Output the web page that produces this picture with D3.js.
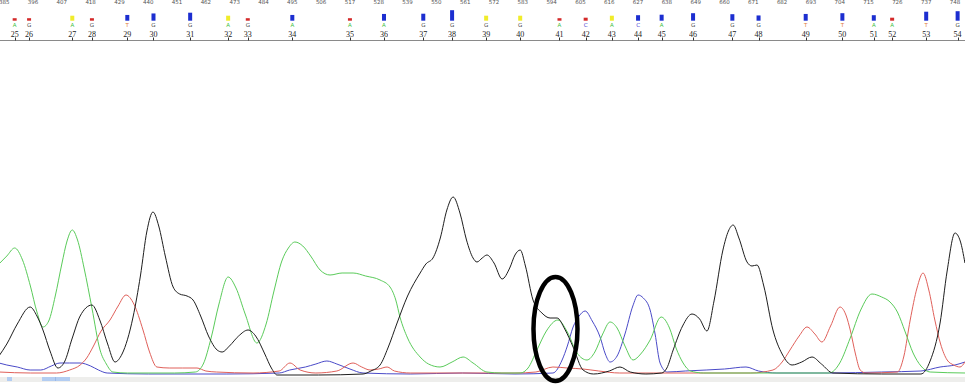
<!DOCTYPE html>
<html>
<head>
<meta charset="utf-8">
<script src="https://cdn.jsdelivr.net/npm/d3@7"></script>
<style>
  html, body { margin: 0; padding: 0; background: #fff; }
  svg { display: block; }
  .hdr text { -webkit-font-smoothing: antialiased; }
</style>
</head>
<body>
<svg id="chart" width="965" height="390"></svg>
<script>
// Scan-number ruler along the top edge
const scanTicks = [385, 396, 407, 418, 429, 440, 451, 462, 473, 484, 495, 506, 517, 528,
  539, 550, 561, 572, 583, 594, 605, 616, 627, 638, 649, 660, 671, 682, 693, 704, 715,
  726, 737, 748];

// Base calls: position number, called base, peak scan, quality value
const basePositions = [25, 26, 27, 28, 29, 30, 31, 32, 33, 34, 35, 36, 37, 38, 39, 40,
  41, 42, 43, 44, 45, 46, 47, 48, 49, 50, 51, 52, 53, 54];
const baseCalls = ["A", "G", "A", "G", "T", "G", "G", "A", "G", "A", "A", "A", "G", "G",
  "G", "G", "A", "C", "A", "C", "A", "G", "G", "G", "T", "T", "A", "A", "T", "G"];
const baseScans = [389, 394.5, 411, 418.5, 432, 442, 456, 470.5, 478, 495, 517, 530, 545,
  556, 569, 582, 597, 607, 617, 627, 636, 648, 663, 673, 691, 705, 717, 724, 737, 749];
const baseQuality = [10, 10, 20, 10, 23, 29, 32, 20, 10, 23, 10, 27, 28, 42, 20, 20, 10,
  12, 20, 22, 24, 30, 26, 21, 27, 30, 22, 12, 36, 38];

// Trace intensities, [scan, signal] pairs, one channel per base
const traceA = [[383,112],[386,120],[389,128],[392,116],[395,90],[397.5,64],[399.8,49],[402,55],
  [404.5,80],[407,112],[409,135],[411,146],[413,136],[415.5,108],[418.5,68],[421.6,26],[424,12],
  [426.5,4],[432,3],[450,3],[458,4],[461,12],[464,38],[467,72],[470.5,99],[473.5,88],[477,62],
  [481.5,33],[485,52],[488,85],[491,115],[493.5,128],[496,134],[499,130],[502,120],[505.6,106],
  [509.4,101],[514,103],[518.2,103],[523,100],[528.5,96],[532.3,89],[534.5,76],[536.1,59],
  [539,38],[543.8,19],[547,12],[551.4,9],[556,14],[560.2,19],[564,13],[569.3,4],[575,3],[582,3],
  [585,8],[588.4,26],[592,45],[596.4,56],[600,44],[603.7,23],[607.5,16],[610.5,24],[613.5,42],
  [616.3,54],[619,48],[622,30],[625.1,16],[628,22],[631.6,36],[635.8,59],[639,48],[641.5,28],
  [644.2,13],[647,5],[652,3],[700,3],[704,13],[708,38],[712,66],[716.3,82],[720,79],[723.2,74],
  [726,64],[729,44],[732,23],[735,10],[738.5,4],[752,3]];
const traceG = [[383,20],[386,32],[390,52],[394.9,69],[397.5,60],[399.8,46],[402.5,25],[405.5,8],
  [408,14],[411,38],[414,60],[418.5,71],[421.5,56],[424.5,32],[427.3,14],[430,22],[434.2,59],
  [437,100],[439.5,145],[441.8,164],[444,150],[446.5,120],[449.5,89],[452,82],[454.8,80],
  [457.1,76],[460,60],[463,40],[466.3,26],[468.2,24],[471,30],[474.5,40],[478.1,46],[481,40],
  [484.5,22],[487,8],[489.2,1],[505,1],[522,2],[525,5],[528.5,11],[531.5,28],[535,53],[539,80],
  [543.8,103],[546,112],[548.7,118],[551.5,138],[554,166],[556.4,179],[559,163],[561.5,136],
  [564,118],[565.5,114],[567.5,118],[569.3,121],[572,113],[575.1,97],[578,108],[580,121],
  [582,126],[584,110],[586.9,76],[590.3,63],[593.4,58],[596.1,58],[599,47],[602.2,29],[606,6],
  [610,2],[616,5],[620.1,9],[624,4],[630,2],[636,3],[638,8],[640.4,26],[644,50],[647.6,62],
  [650.5,57],[653.3,45],[656,75],[659.4,126],[661.5,145],[663.3,151],[665.5,138],[668.6,114],
  [670.5,110],[672.4,111],[675,90],[678.5,46],[682,22],[685.8,11],[689.5,14],[693.4,19],[697,12],
  [701.4,3],[720,2],[735,2],[738.5,15],[742.3,53],[745,105],[748,143],[750,135],[751.8,113]];
const traceT = [[383,4],[395,3],[405,3],[410,6],[414,11],[416.5,18],[418.9,29],[422,45],[425.4,56],
  [428.5,70],[431.5,81],[434.5,72],[438,46],[440.5,24],[443.3,9],[448,8],[453,8],[458.6,8],[462,5],
  [466,4],[480,3],[490,5],[494.1,13],[498,6],[504,3],[512,5],[518.2,13],[521.5,9],[524.7,6],
  [528,7],[531.2,9],[534,5],[540,3],[560,3],[580,3],[588,4],[594.5,9],[600,8],[606,7],[612,5],
  [620,3],[650,3],[670,3],[678.5,6],[682,14],[685,26],[688.5,40],[691.5,49],[694.5,42],
  [697.2,34],[700.5,50],[704.1,69],[706.5,60],[708,46],[710,22],[711.8,6],[714,3],[726,4],
  [728.5,20],[730.9,56],[733.5,88],[735.8,103],[738,86],[740.3,56],[742.5,32],[745,16],
  [747.5,11],[749.9,9],[751.8,14]];
const traceC = [[383,13],[386,11],[390,9],[394.9,6],[399,6],[403,10],[406.3,13],[410,13],[414,13],
  [418,10],[421,6],[424.3,3],[440,2],[470,2],[490,3],[494,6],[500,9],[504,12],[508.2,15],[512,12],
  [517,7],[522,3],[540,2],[560,3],[580,2],[594.5,3],[598,16],[600,30],[602.2,49],[604.5,60],
  [606.8,65],[609.5,55],[612.5,39],[614.5,22],[616.3,14],[619,20],[622,42],[625,70],[627,81],
  [629,78],[631.6,66],[633.5,42],[635.4,13],[638.1,4],[645,5],[653,6],[660,7],[668.2,9],[673,5],
  [680,3],[700,3],[720,4],[735,5],[742.3,9],[748,11],[751.8,14]];

// Base position flagged for review (scan of the ringed peak)
const flaggedScan = [597];

const baseColor = { A: "#3fbf3f", C: "#3a3ad0", G: "#444", T: "#e07a3c" };
const traceColor = { A: "#5acb5a", C: "#4a4ac8", G: "#1e1e1e", T: "#e0605a" };

const W = 965, H = 390;
const svg = d3.select("#chart");

const x = d3.scaleLinear().domain([396, 748]).range([33, 955]);
const y = d3.scaleLinear().domain([0, 200]).range([376, 176]);
const qh = d3.scaleLinear().domain([0, 40]).range([0, 10]);
const qColor = q => q < 15 ? "#d42a2a" : q < 21 ? "#f0ec2a" : "#1c2ed0";

// ---- header: scan ruler, quality bars, base letters, position ruler ----
const header = svg.append("g").attr("class", "hdr");

header.selectAll("text.scan").data(scanTicks).join("text")
  .attr("class", "scan")
  .attr("x", d => x(d)).attr("y", 3.5)
  .attr("text-anchor", "middle")
  .attr("font-family", "DejaVu Sans, sans-serif")
  .attr("font-size", 5.5)
  .attr("fill", "#555")
  .text(d => d);

const calls = basePositions.map((p, i) => ({
  pos: p, base: baseCalls[i], scan: baseScans[i], q: baseQuality[i]
}));

header.selectAll("rect.qual").data(calls).join("rect")
  .attr("class", "qual")
  .attr("x", d => x(d.scan) - 2)
  .attr("y", d => 20.7 - qh(d.q))
  .attr("width", 4)
  .attr("height", d => qh(d.q))
  .attr("fill", d => qColor(d.q));

header.selectAll("text.base").data(calls).join("text")
  .attr("class", "base")
  .attr("x", d => x(d.scan)).attr("y", 26.5)
  .attr("text-anchor", "middle")
  .attr("font-family", "DejaVu Sans, sans-serif")
  .attr("font-size", 5.5)
  .attr("fill", d => baseColor[d.base])
  .text(d => d.base);

header.selectAll("text.pos").data(calls).join("text")
  .attr("class", "pos")
  .attr("x", d => x(d.scan)).attr("y", 36.5)
  .attr("text-anchor", "middle")
  .attr("font-family", "Liberation Serif, serif")
  .attr("font-size", 8)
  .attr("fill", "#222")
  .attr("opacity", 0.99)
  .text(d => d.pos);

header.append("line")
  .attr("x1", 0).attr("x2", W).attr("y1", 40.5).attr("y2", 40.5)
  .attr("stroke", "#8a8a8a").attr("stroke-width", 1);

header.selectAll("line.tick").data(calls).join("line")
  .attr("class", "tick")
  .attr("x1", d => Math.round(x(d.scan)) + 0.5).attr("x2", d => Math.round(x(d.scan)) + 0.5)
  .attr("y1", 37.5).attr("y2", 40.5)
  .attr("stroke", "#333").attr("stroke-width", 1);

// ---- scroll strip under the traces ----
svg.append("rect").attr("x", 0).attr("y", 377).attr("width", W).attr("height", 5)
  .attr("fill", "#eeeeec");
svg.append("rect").attr("x", 7).attr("y", 377).attr("width", 5).attr("height", 4)
  .attr("fill", "#b3cdf2");
svg.append("rect").attr("x", 42).attr("y", 377).attr("width", 28).attr("height", 4)
  .attr("fill", "#b3cdf2");
svg.append("line").attr("x1", 55.5).attr("x2", 55.5).attr("y1", 377).attr("y2", 381)
  .attr("stroke", "#9ab8e6");

// ---- chromatogram traces ----
const line = d3.line()
  .x(d => x(d[0]))
  .y(d => y(d[1]))
  .curve(d3.curveMonotoneX);

const traces = [
  { base: "C", data: traceC },
  { base: "T", data: traceT },
  { base: "A", data: traceA },
  { base: "G", data: traceG }
];

svg.append("g").selectAll("path").data(traces).join("path")
  .attr("d", d => line(d.data))
  .attr("fill", "none")
  .attr("stroke", d => traceColor[d.base])
  .attr("stroke-width", 1)
  .attr("stroke-linejoin", "round");

// ---- ring around the flagged peak ----
svg.append("g").selectAll("ellipse").data(flaggedScan).join("ellipse")
  .attr("cx", d => x(d) - 4)
  .attr("cy", 329)
  .attr("rx", 22)
  .attr("ry", 52)
  .attr("fill", "none")
  .attr("stroke", "#000")
  .attr("stroke-width", 4.5);
</script>
</body>
</html>
